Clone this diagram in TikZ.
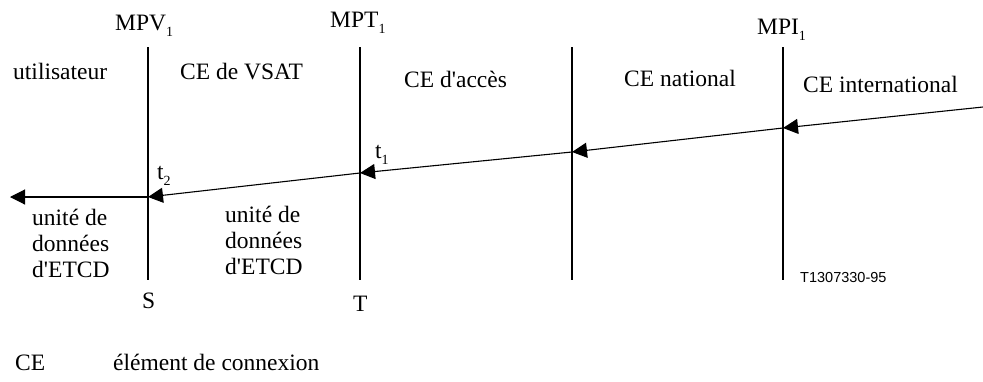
\documentclass[tikz,border=0pt]{standalone}
\usepackage{fontspec}
\setmainfont{Liberation Serif}[Ligatures=TeXOff]
\newfontfamily\kennfont{Liberation Sans}
\usetikzlibrary{arrows.meta}
\newcommand{\ix}[1]{\raisebox{-0.28em}{\fontsize{14}{14}\selectfont #1}}

\begin{document}
\begin{tikzpicture}[x=1pt,y=-1pt,
    every node/.style={inner sep=0pt,anchor=base west,font=\fontsize{23.5}{26}\selectfont},
    grenze/.style={line width=1.8pt,black},
    fluss/.style={line width=1.1pt,black,-{Triangle[length=15pt,width=15pt]}},
    block/.style={align=left}]
    \useasboundingbox (0,0) rectangle (983,381);

    %Grenzen
    \draw[grenze] (148,47) coordinate (mpvo) -- (148,280) coordinate (mpvu);
    \draw[grenze] (360,47) coordinate (mpto) -- (360,280) coordinate (mptu);
    \draw[grenze] (572,47) coordinate (mnao) -- (572,280) coordinate (mnau);
    \draw[grenze] (783,47) coordinate (mpio) -- (783,280) coordinate (mpiu);

    \node (mpv) at (115,30) {MPV\ix{1}};
    \node (mpt) at (330,27) {MPT\ix{1}};
    \node (mpi) at (757,34) {MPI\ix{1}};

    \node (util) at (13,79) {utilisateur};
    \node (vsat) at (180,79) {CE de VSAT};
    \node (acc) at (404,87) {CE d'accès};
    \node (nat) at (624,86) {CE national};
    \node (int) at (803,92) {CE international};

    %Datenfluss
    \coordinate (ein) at (983,107);
    \coordinate (pi) at (783,128);
    \coordinate (pn) at (572,152);
    \coordinate (pt) at (360,173);
    \coordinate (pv) at (148,197);
    \coordinate (aus) at (10,197);
    \draw[fluss] (ein) -- (pi);
    \draw[fluss] (pi) -- (pn);
    \draw[fluss] (pn) -- (pt);
    \draw[fluss] (pt) -- (pv);
    \draw[fluss] (pv) -- (aus);

    \node (t1) at (375,158) {t\ix{1}};
    \node (t2) at (157,179) {t\ix{2}};

    \node[block] (etcdl) at (32,277) {unité de\\données\\d'ETCD};
    \node[block] (etcdr) at (225,274) {unité de\\données\\d'ETCD};

    \node (s) at (142,308) {S};
    \node (t) at (353,311) {T};
    \node[font=\kennfont\fontsize{14.5}{16}\selectfont] (kenn) at (800,282) {T1307330-95};

    \node (ce) at (15,370) {CE};
    \node (cetxt) at (113,370) {élément de connexion};
\end{tikzpicture}
\end{document}
